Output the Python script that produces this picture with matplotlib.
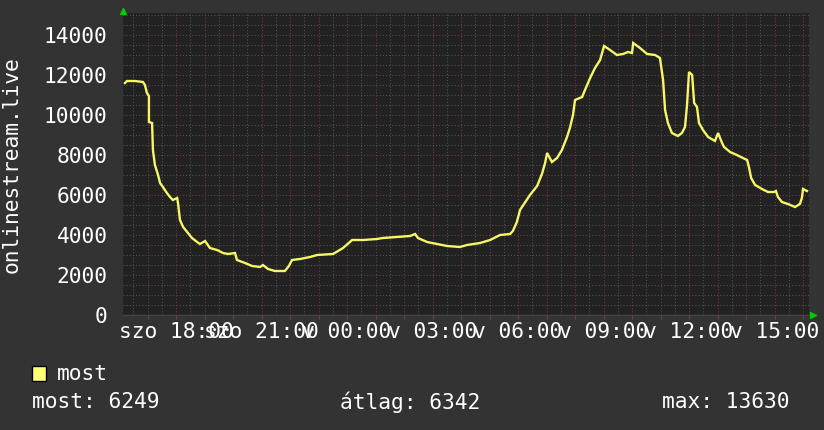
import numpy as np
import matplotlib
matplotlib.use("Agg")
import matplotlib.pyplot as plt
from matplotlib.ticker import MultipleLocator, FixedLocator
from matplotlib.patches import Rectangle

# hours relative to Sunday 00:00, viewers
hours = [-7.79, -7.72, -7.44, -7.16, -7.09, -7.02, -6.95, -6.95, -6.84, -6.81,
         -6.74, -6.63, -6.56, -6.46, -6.32, -6.21, -6.11, -5.96, -5.93, -5.86,
         -5.75, -5.61, -5.44, -5.26, -5.16, -4.98, -4.81, -4.56, -4.35, -4.18,
         -3.93, -3.86, -3.58, -3.33, -3.05, -2.95, -2.77, -2.53, -2.18, -2.04,
         -1.93, -1.65, -1.30, -1.05, -0.49, -0.14, 0.18, 0.56, 1.05, 1.26,
         1.75, 2.21, 2.39, 2.49, 2.81, 3.16, 3.51, 3.96, 4.21, 4.67,
         5.02, 5.37, 5.72, 5.82, 5.96, 6.07, 6.42, 6.67, 6.84, 6.95,
         7.02, 7.19, 7.37, 7.54, 7.72, 7.82, 7.93, 8.00, 8.25, 8.35,
         8.53, 8.70, 8.88, 9.02, 9.23, 9.47, 9.68, 9.86, 10.00, 10.04,
         10.28, 10.53, 10.81, 10.98, 11.09, 11.16, 11.26, 11.40, 11.61, 11.75,
         11.86, 11.93, 12.00, 12.11, 12.18, 12.28, 12.35, 12.49, 12.67, 12.91,
         13.02, 13.16, 13.23, 13.44, 13.68, 13.89, 14.04, 14.11, 14.18, 14.32,
         14.56, 14.77, 14.98, 15.05, 15.12, 15.26, 15.47, 15.72, 15.89, 15.96,
         16.00, 16.14]
viewers = [11600, 11700, 11700, 11650, 11500, 11100, 10950, 9650, 9600, 8250,
           7500, 7000, 6600, 6400, 6100, 5900, 5750, 5850, 5600, 4750,
           4400, 4150, 3850, 3650, 3550, 3700, 3350, 3250, 3100, 3050,
           3100, 2750, 2600, 2450, 2400, 2500, 2300, 2200, 2200, 2450,
           2750, 2800, 2900, 3000, 3050, 3350, 3750, 3750, 3800, 3850,
           3900, 3950, 4050, 3850, 3650, 3550, 3450, 3400, 3500, 3600,
           3750, 4000, 4050, 4200, 4650, 5250, 6000, 6450, 7050, 7600,
           8100, 7650, 7850, 8250, 8900, 9350, 10000, 10750, 10900, 11250,
           11850, 12350, 12750, 13450, 13250, 13000, 13050, 13150, 13100, 13600,
           13350, 13050, 13000, 12850, 11750, 10250, 9600, 9100, 8950, 9100,
           9400, 10500, 12150, 12000, 10600, 10400, 9600, 9250, 8900, 8700,
           9100, 8600, 8400, 8150, 8000, 7850, 7750, 7350, 6850, 6500,
           6300, 6150, 6150, 6200, 5900, 5650, 5550, 5400, 5550, 5850,
           6300, 6200]

tick_hours = [-6, -3, 0, 3, 6, 9, 12, 15]
tick_labels = ["szo 18:00", "szo 21:00", "v 00:00", "v 03:00",
               "v 06:00", "v 09:00", "v 12:00", "v 15:00"]
y_ticks = [0, 2000, 4000, 6000, 8000, 10000, 12000, 14000]

legend_name = "most"
stat_labels = ["most: 6249", "átlag: 6342", "max: 13630"]

BG = "#333333"
PLOT_BG = "#222222"
MINOR = "#555555"
MAJOR = "#7a3a3a"
LINE = "#f6f668"
FONT = "DejaVu Sans Mono"
FS = 15.3

fig = plt.figure(figsize=(8.24, 4.30), dpi=100, facecolor=BG)
ax = fig.add_axes([123 / 824, 115 / 430, 686 / 824, 302 / 430], facecolor=PLOT_BG)

ax.set_xlim(-7.86, 16.21)
ax.set_ylim(0, 15100)

# grid: half hours / 500 minor, hours / 2000 major
ax.xaxis.set_minor_locator(MultipleLocator(0.5))
ax.xaxis.set_major_locator(MultipleLocator(1))
ax.yaxis.set_minor_locator(MultipleLocator(500))
ax.yaxis.set_major_locator(FixedLocator(y_ticks))
ax.grid(which="minor", color=MINOR, linestyle=(0, (1, 2)), linewidth=0.75)
ax.grid(which="major", color=MAJOR, linestyle=(0, (1, 2)), linewidth=0.75)
ax.set_axisbelow(True)

def xfmt(v, pos):
    for h, lab in zip(tick_hours, tick_labels):
        if abs(v - h) < 1e-6:
            return lab
    return ""

ax.xaxis.set_major_formatter(plt.FuncFormatter(xfmt))
ax.set_yticklabels([str(v) for v in y_ticks])

for lab in ax.get_xticklabels() + ax.get_yticklabels():
    lab.set_fontfamily(FONT)
    lab.set_fontsize(FS)
    lab.set_color("white")

ax.tick_params(axis="x", which="major", length=3, color=MAJOR, pad=2)
ax.tick_params(axis="x", which="minor", length=0)
ax.tick_params(axis="y", which="both", length=0, pad=11)

for s in ["top", "right", "left"]:
    ax.spines[s].set_visible(False)
ax.spines["bottom"].set_color("#444444")
ax.spines["bottom"].set_linewidth(1)

ax.plot(hours, viewers, color=LINE, linewidth=1.7, solid_joinstyle="miter", zorder=3)

# arrows at axis ends
ax.plot([0], [1 + 2 / 302], transform=ax.transAxes, marker="^", color="#00cc00",
        markersize=5, clip_on=False)
ax.plot([1 + 4 / 686], [0], transform=ax.transAxes, marker=">", color="#00cc00",
        markersize=5, clip_on=False)

fig.text(12 / 824, 1 - 165 / 430, "onlinestream.live", rotation=90, color="white",
         fontfamily=FONT, fontsize=FS, ha="center", va="center")

# legend
fig.add_artist(Rectangle((32 / 824, 49 / 430), 14 / 824, 15 / 430,
                         transform=fig.transFigure, facecolor="#ffff77",
                         edgecolor="black", linewidth=1))
fig.text(57 / 824, 1 - 374 / 430, legend_name, color="white", fontfamily=FONT,
         fontsize=FS, ha="left", va="center")
for x, s in zip([32, 340, 662], stat_labels):
    fig.text(x / 824, 1 - 402 / 430, s, color="white", fontfamily=FONT,
             fontsize=FS, ha="left", va="center")

fig.savefig("out.png", dpi=100, facecolor=BG)
